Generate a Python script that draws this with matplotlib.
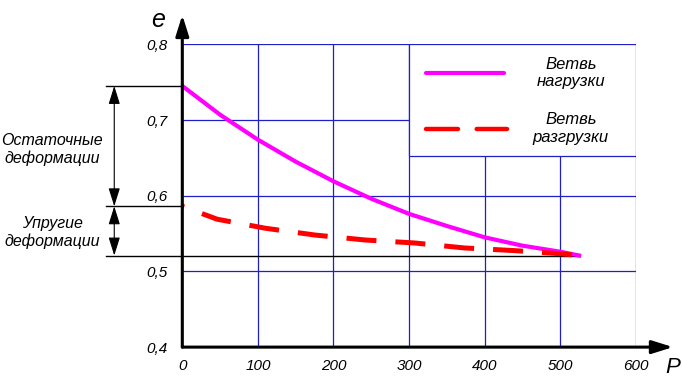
import numpy as np
import matplotlib.pyplot as plt
from matplotlib.patches import Rectangle

plt.rcParams['font.family'] = ['Liberation Sans', 'DejaVu Sans']

# loading branch
p_load = [0, 50, 100, 150, 200, 250, 300, 350, 400, 450, 500, 525]
e_load = [0.745, 0.707, 0.674, 0.645, 0.619, 0.596, 0.576, 0.560, 0.545, 0.534, 0.526, 0.521]

# unloading branch
p_unload = [0, 46, 110, 176, 242, 308, 373, 439, 505, 525]
e_unload = [0.586, 0.569, 0.557, 0.548, 0.5415, 0.5375, 0.531, 0.5275, 0.523, 0.521]

x_ticks = [0, 100, 200, 300, 400, 500, 600]
y_ticks = [0.4, 0.5, 0.6, 0.7, 0.8]
x_labels = ['0', '100', '200', '300', '400', '500', '600']
y_labels = ['0,4', '0,5', '0,6', '0,7', '0,8']

label_load = 'Ветвь\nнагрузки'
label_unload = 'Ветвь\nразгрузки'
label_residual = 'Остаточные\nдеформации'
label_elastic = 'Упругие\nдеформации'

GRID = '#1f1fc8'
MAGENTA = '#ff00ff'
RED = '#ff0000'

fig = plt.figure(figsize=(6.82, 3.83), dpi=100)
ax = fig.add_axes([0.2673, 0.0937, 0.6651, 0.7906])
ax.set_xlim(0, 600)
ax.set_ylim(0.4, 0.8)
for s in ax.spines.values():
    s.set_visible(False)

ax.set_xticks(x_ticks)
ax.set_xticklabels(x_labels, fontstyle='italic', fontsize=11)
ax.set_yticks(y_ticks)
ax.set_yticklabels(y_labels, fontstyle='italic', fontsize=11)
ax.tick_params(axis='x', length=0, pad=8.5)
ax.tick_params(axis='y', length=0, pad=10.5)
ax.set_axisbelow(True)
ax.grid(True, color=GRID, lw=0.9)

# legend box sitting on top of the grid
ax.add_patch(Rectangle((300, 0.653), 300, 0.147, facecolor='white',
                       edgecolor=GRID, lw=0.9, zorder=1))
ax.plot([323, 426], [0.7625, 0.7625], color=MAGENTA, lw=3.0,
        solid_capstyle='round', zorder=3)
ax.plot([323, 429], [0.6886, 0.6886], color=RED, lw=3.2,
        linestyle=(0, (7.2, 4.2)), dash_capstyle='round', zorder=3)
ax.text(514, 0.762, label_load, ha='center', va='center', fontsize=12,
        fontstyle='italic', linespacing=1.2)
ax.text(514, 0.689, label_unload, ha='center', va='center', fontsize=12,
        fontstyle='italic', linespacing=1.2)

# reference levels on the left
e0, e_el, e_fin = e_load[0], e_unload[0], e_load[-1]
ax.plot([-101, 0], [e0, e0], color='black', lw=1.0, clip_on=False)
ax.plot([-101, 0], [e_el, e_el], color='black', lw=1.0, clip_on=False)
ax.plot([-101, p_load[-1]], [e_fin, e_fin], color='black', lw=1.0,
        clip_on=False, zorder=2)

dbl = dict(arrowstyle='<|-|>,head_length=0.8,head_width=0.25', color='black',
           lw=0.8, mutation_scale=14, shrinkA=0, shrinkB=0)
ax.annotate('', xy=(-90, e0), xytext=(-90, e_el), arrowprops=dbl,
            annotation_clip=False)
ax.annotate('', xy=(-90, e_el), xytext=(-90, e_fin), arrowprops=dbl,
            annotation_clip=False)
ax.text(-172, 0.661, label_residual, ha='center', va='center', fontsize=11.5,
        fontstyle='italic', linespacing=1.2)
ax.text(-172, 0.552, label_elastic, ha='center', va='center', fontsize=11.5,
        fontstyle='italic', linespacing=1.2)

# curves
ax.plot(p_load, e_load, color=MAGENTA, lw=3.0, zorder=3)
ax.plot(p_unload, e_unload, color=RED, lw=3.6, linestyle=(5.6, (6, 3.8)),
        zorder=3)

# axes with arrow heads
axis_arrow = dict(arrowstyle='-|>,head_length=0.7,head_width=0.22',
                  color='black', lw=2.2, mutation_scale=18, shrinkA=0, shrinkB=0)
ax.annotate('', xy=(0, 0.8387), xytext=(0, 0.4), arrowprops=axis_arrow,
            annotation_clip=False)
ax.annotate('', xy=(649, 0.4), xytext=(0, 0.4), arrowprops=axis_arrow,
            annotation_clip=False)
ax.text(-32, 0.832, 'e', ha='center', va='center', fontsize=18,
        fontstyle='italic')
ax.text(649, 0.3735, 'P', ha='center', va='center', fontsize=16,
        fontstyle='italic')

fig.savefig('out.png', dpi=100)
